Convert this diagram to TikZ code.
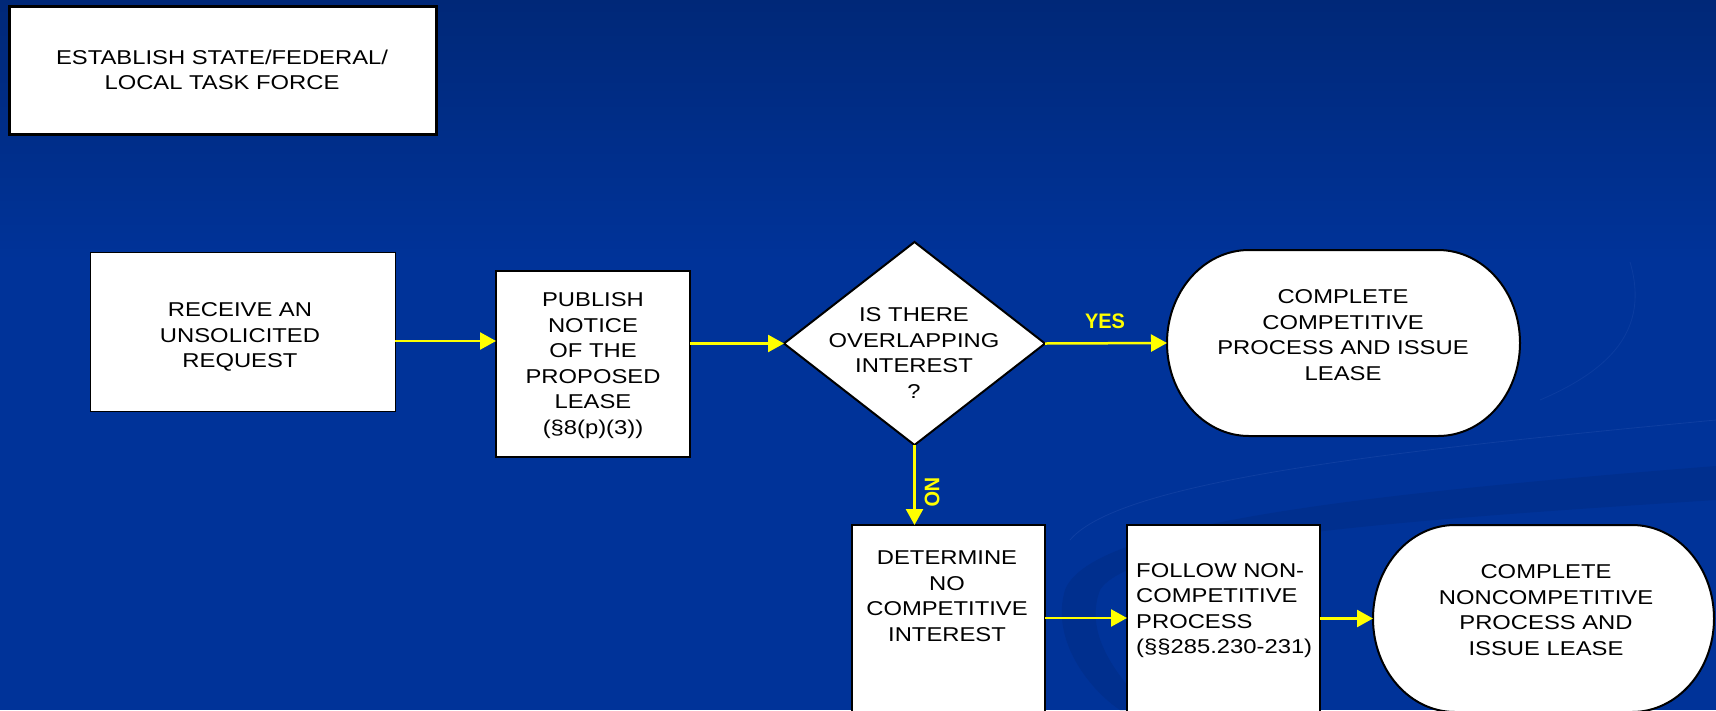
\documentclass[tikz,border=0pt]{standalone}
\usepackage{fontspec}
\setmainfont{Liberation Sans}[FakeStretch=1.19]
\newfontfamily\lblfont{Liberation Sans}[FakeStretch=0.95]
\usetikzlibrary{arrows.meta,shapes.geometric,calc}
\definecolor{bgtop}{RGB}{0,40,120}
\definecolor{bgmain}{RGB}{0,51,153}
\definecolor{swoosh}{RGB}{0,47,142}
\definecolor{swooshline}{RGB}{30,75,170}
\definecolor{flowyellow}{RGB}{255,255,0}
\tikzset{
  boxshape/.style={draw=black, fill=white, line width=2pt, inner sep=0pt, outer sep=0pt},
  termshape/.style={draw=black, fill=white, line width=2pt},
  anchorbox/.style={inner sep=0pt, outer sep=0pt},
  txt/.style={font=\fontsize{20}{25.5}\selectfont, align=center, inner sep=0pt, text=black},
  flow/.style={draw=flowyellow, line width=2.5pt, -{Triangle[length=16pt,width=17pt]}},
  lbl/.style={text=flowyellow, font=\lblfont\bfseries\fontsize{21}{24}\selectfont, inner sep=0pt},
}
\begin{document}
\begin{tikzpicture}[x=1pt,y=-1pt]
% background
\useasboundingbox (0,0) rectangle (1716,710);
\fill[bgmain] (0,0) rectangle (1716,710);
\shade[top color=bgtop, bottom color=bgmain] (0,0) rectangle (1716,260);
% swoosh
\fill[swoosh] (1716,466) .. controls (1350,495) and (1090,525) .. (1065,590)
  .. controls (1050,640) and (1090,690) .. (1120,710) -- (1150,710)
  .. controls (1110,670) and (1085,630) .. (1100,590)
  .. controls (1130,540) and (1400,520) .. (1716,500) -- cycle;
\draw[swooshline, line width=0.8pt, opacity=0.5] (1716,420) .. controls (1400,450) and (1120,480) .. (1070,540);
\draw[swooshline, line width=0.8pt, opacity=0.4] (1540,400) .. controls (1610,370) and (1650,330) .. (1630,262);

% top box
\node[boxshape, line width=3pt, minimum width=427pt, minimum height=128pt] (est) at (222.5,70) {};
\node[txt] (estt) at (222,70) {ESTABLISH STATE/FEDERAL/\\LOCAL TASK FORCE};

% receive
\node[boxshape, line width=1pt, minimum width=305pt, minimum height=159pt] (rcv) at (242.5,331.5) {};
\node[txt] (rcvt) at (240,337) {RECEIVE AN\\UNSOLICITED\\REQUEST};

% publish
\node[boxshape, line width=2.5pt, minimum width=194pt, minimum height=186pt] (pub) at (593,364) {};
\node[txt] (pubt) at (593,365.5) {PUBLISH\\NOTICE\\OF THE\\PROPOSED\\LEASE\\(§8(p)(3))};

% decision
\node[draw=black, fill=white, line width=2pt, shape=diamond, aspect=1.2857, minimum width=261pt, minimum height=203pt, inner sep=0pt, outer sep=0pt] (dq) at (914.5,343.5) {};
\node[txt] (dqt) at (914,353) {IS THERE\\OVERLAPPING\\INTEREST\\?};

% competitive terminal
\node[anchorbox, minimum width=353pt, minimum height=186pt] (cc) at (1343.5,343) {};
\draw[termshape] ([xshift=82pt]cc.north west) -- ([xshift=-82pt]cc.north east)
  arc[start angle=90, end angle=-90, x radius=82pt, y radius=93pt]
  -- ([xshift=82pt]cc.south west)
  arc[start angle=270, end angle=90, x radius=82pt, y radius=93pt] -- cycle;
\node[txt] (cct) at (1343,335) {COMPLETE\\COMPETITIVE\\PROCESS AND ISSUE\\LEASE};

% determine
\node[boxshape, minimum width=193pt, minimum height=190pt] (det) at (948.5,620) {};
\node[txt] (dett) at (947,596) {DETERMINE\\NO\\COMPETITIVE\\INTEREST};

% follow
\node[boxshape, minimum width=193pt, minimum height=190pt] (fol) at (1223.5,620) {};
\node[txt, align=left, anchor=west] (folt) at (1136,610.5) {FOLLOW NON-\\COMPETITIVE\\PROCESS\\(§§285.230-231)};

% noncompetitive terminal
\node[anchorbox, minimum width=341pt, minimum height=187pt] (cn) at (1543.5,618.5) {};
\draw[termshape] ([xshift=82pt]cn.north west) -- ([xshift=-82pt]cn.north east)
  arc[start angle=90, end angle=-90, x radius=82pt, y radius=93.5pt]
  -- ([xshift=82pt]cn.south west)
  arc[start angle=270, end angle=90, x radius=82pt, y radius=93.5pt] -- cycle;
\node[txt] (cnt) at (1546,610) {COMPLETE\\NONCOMPETITIVE\\PROCESS AND\\ISSUE LEASE};

% connectors
\coordinate (a1) at ([yshift=-9.5pt]rcv.east);
\draw[flow] (a1) -- (a1 -| pub.west);
\draw[flow] (dq.west -| pub.east) -- (dq.west);
\draw[flow] (dq.east) -- (cc.west);
\draw[flow] (dq.south) -- (dq.south |- det.north);
\draw[flow] ([yshift=2pt]det.east) -- ([yshift=2pt]fol.west);
\draw[flow] (fol.east |- cn.west) -- (cn.west);

% labels
\node[lbl] (yes) at (1105,321) {YES};
\node[lbl, rotate=-90] (no) at (932,492) {NO};
\end{tikzpicture}
\end{document}
